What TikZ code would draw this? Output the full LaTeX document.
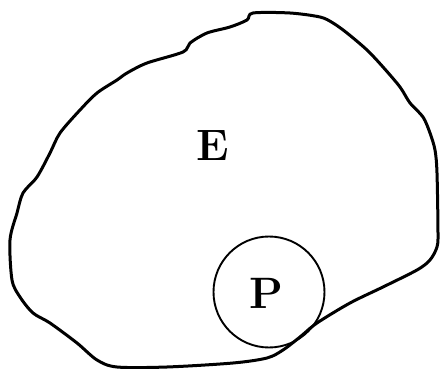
\documentclass[tikz,border=0pt]{standalone}
\begin{document}
\begin{tikzpicture}[x=1pt,y=-1pt,
  blob/.style={line width=3pt, line join=round},
  ring/.style={draw, circle, line width=1.9pt, minimum size=111pt, inner sep=0pt},
  lbl/.style={font=\fontsize{44}{44}\selectfont\bfseries, inner sep=0pt}]
\useasboundingbox (0,0) rectangle (440,369);
\draw[blob] plot[smooth cycle, tension=0.5] coordinates {
 (253,13) (290,13) (320,17) (333,23) (347,33) (367,50) (383,67) (400,87)
 (410,103) (423,117) (430,133) (435,150) (437,173) (438,233) (437,247)
 (430,260) (417,270) (383,287) (350,303) (317,323) (300,337) (283,350)
 (267,358) (233,363) (167,367) (117,367) (97,360) (77,343) (50,323)
 (33,313) (20,297) (12,280) (10,240) (17,213) (23,193) (37,177) (50,153)
 (60,133) (80,110) (97,93) (117,80) (127,73) (147,63) (183,52) (190,43)
 (207,33) (230,27) (247,20)};
\node[lbl] (E) at (213,146) {E};
\node[ring] (Pc) at (269,292) {};
\node[lbl] (P) at (266,293) {P};
\end{tikzpicture}
\end{document}
